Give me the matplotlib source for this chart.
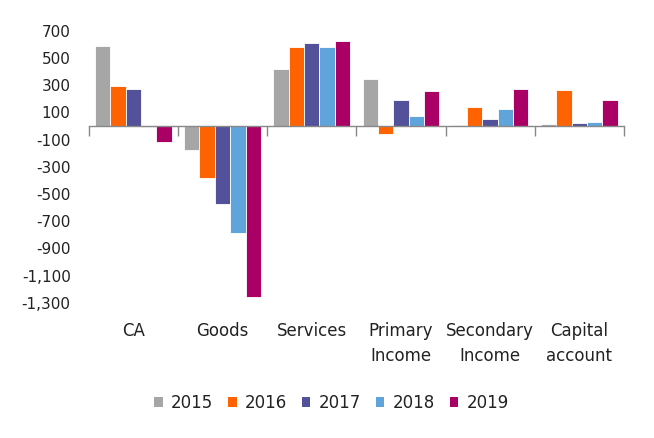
import matplotlib
matplotlib.use("Agg")
import matplotlib.pyplot as plt
import numpy as np
from matplotlib.ticker import FuncFormatter
from matplotlib.patches import Patch

categories = ["CA", "Goods", "Services", "Primary\nIncome", "Secondary\nIncome", "Capital\naccount"]
years = ["2015", "2016", "2017", "2018", "2019"]
v2015 = [590, -175, 416, 343, 7, 14]
v2016 = [292, -379, 583, -58, 139, 262]
v2017 = [275, -576, 612, 190, 51, 19]
v2018 = [-5, -785, 583, 73, 124, 29]
v2019 = [-117, -1259, 627, 255, 270, 190]
series = [v2015, v2016, v2017, v2018, v2019]
colors = ["#A6A6A6", "#FF6200", "#525199", "#5FA4DB", "#AA0066"]
yticks = list(range(-1300, 701, 200))

plt.rcParams['font.family'] = ['DejaVu Sans']
fig = plt.figure(figsize=(6.54, 4.38), dpi=100)
ax = fig.add_axes([0.1356, 0.3087, 0.954 - 0.1356, 0.9297 - 0.3087])

n = len(series)
w = 0.172
x = np.arange(len(categories))
for i, (vals, c) in enumerate(zip(series, colors)):
    ax.bar(x + (i - (n - 1) / 2) * w, vals, width=w, color=c, edgecolor="white", linewidth=0.6, zorder=2)

ax.set_xlim(-0.5, len(categories) - 0.5)
ax.set_ylim(-1300, 700)
ax.set_yticks(yticks)
ax.yaxis.set_major_formatter(FuncFormatter(lambda v, p: f"{int(v):,}"))
ax.tick_params(axis='y', length=0, pad=13, labelsize=11, colors="#222222")

for s in ["left", "right", "top"]:
    ax.spines[s].set_visible(False)
ax.spines["bottom"].set_position(("data", 0))
ax.spines["bottom"].set_color("#888888")
ax.spines["bottom"].set_linewidth(1)
ax.spines["bottom"].set_zorder(3)
ax.set_xticks(np.arange(-0.5, len(categories), 1.0))
ax.set_xticklabels([])
ax.tick_params(axis='x', length=7, color="#888888", width=1, direction="out")

for xi, lab in zip(x, categories):
    ax.text(xi, -0.07, lab, transform=ax.get_xaxis_transform(), ha="center", va="top",
            fontsize=12, linespacing=1.5, color="#222222")

handles = [Patch(facecolor=c, edgecolor="none") for c in colors]
fig.legend(handles, years, loc="center", bbox_to_anchor=(0.507, 0.08), ncol=5, frameon=False,
           fontsize=12, handlelength=0.5, handleheight=0.5, handletextpad=0.5, columnspacing=0.9,
           labelcolor="#222222")

fig.savefig("out.png", dpi=100)
